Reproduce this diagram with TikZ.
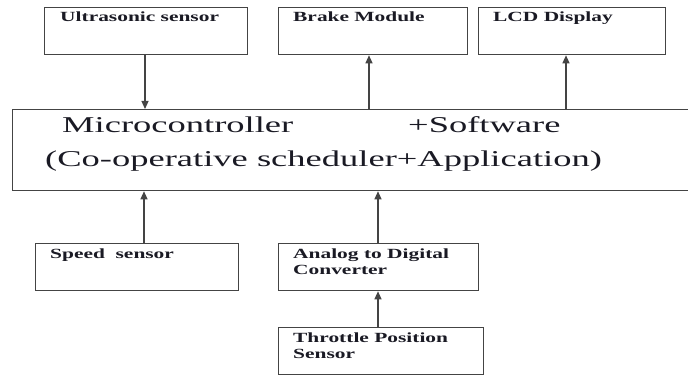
\documentclass[tikz,border=0pt]{standalone}
\usepackage{fontspec}
\setmainfont{Liberation Serif}
\newfontfamily\tms{Liberation Serif}
\usepackage{graphicx}
\usetikzlibrary{arrows.meta,calc}
\definecolor{linegray}{HTML}{444444}
\definecolor{txt}{HTML}{1A1A24}
\begin{document}
\begin{tikzpicture}[x=1pt,y=-1pt,
 box/.style={draw=linegray, line width=1.3pt, inner sep=0pt, anchor=north west, minimum height=47pt},
 lbl/.style={inner sep=0pt, anchor=base west, text=txt, font=\tms\fontsize{14}{16}\selectfont\bfseries},
 big/.style={inner sep=0pt, anchor=base west, text=txt, font=\tms\fontsize{22.6}{27}\selectfont},
 arr/.style={draw=linegray, line width=1.2pt, -{Triangle[length=8pt,width=7pt]}}]
\useasboundingbox (0,0) rectangle (688,377);
\fill[white] (0,0) rectangle (688,377);
% boxes
\node[box, minimum width=203pt] (ultra) at (44,7) {};
\node[box, minimum width=189pt] (brake) at (278,7) {};
\node[box, minimum width=187pt] (lcd) at (478,7) {};
\node[box, minimum width=700pt, minimum height=81pt] (main) at (12,109) {};
\node[box, minimum width=203pt] (speed) at (35,243) {};
\node[box, minimum width=200pt] (adc) at (278,243) {};
\node[box, minimum width=205pt] (thr) at (278,327) {};
% labels
\node[lbl] (ultraT) at ($(ultra.north west)+(16,15)$) {\scalebox{1.53}[1]{Ultrasonic sensor}};
\node[lbl] (brakeT) at ($(brake.north west)+(15,15)$) {\scalebox{1.53}[1]{Brake Module}};
\node[lbl] (lcdT) at ($(lcd.north west)+(15,15)$) {\scalebox{1.53}[1]{LCD Display}};
\node[lbl] (speedT) at ($(speed.north west)+(15,15)$) {\scalebox{1.53}[1]{Speed\ \ sensor}};
\node[lbl] (adcT) at ($(adc.north west)+(15,15)$) {\scalebox{1.53}[1]{\begin{tabular}[t]{@{}l@{}}Analog to Digital\\Converter\end{tabular}}};
\node[lbl] (thrT) at ($(thr.north west)+(15,15)$) {\scalebox{1.53}[1]{\begin{tabular}[t]{@{}l@{}}Throttle Position\\Sensor\end{tabular}}};
\node[big] (mcT) at (62,132) {\scalebox{1.615}[1]{Microcontroller}};
\node[big] (swT) at (408,132) {\scalebox{1.615}[1]{+Software}};
\node[big] (schT) at (45,167) {\scalebox{1.615}[1]{(Co-operative scheduler+Application)}};
% connectors
\coordinate (xu) at (145,0);
\coordinate (xb) at (369,0);
\coordinate (xl) at (566,0);
\coordinate (xs) at (144,0);
\coordinate (xa) at (378,0);
\draw[arr] (xu |- ultra.south) -- (xu |- main.north);
\draw[arr] (xb |- main.north) -- (xb |- brake.south);
\draw[arr] (xl |- main.north) -- (xl |- lcd.south);
\draw[arr] (xs |- speed.north) -- (xs |- main.south);
\draw[arr] (xa |- adc.north) -- (xa |- main.south);
\draw[arr] (xa |- thr.north) -- (xa |- adc.south);
\end{tikzpicture}
\end{document}
